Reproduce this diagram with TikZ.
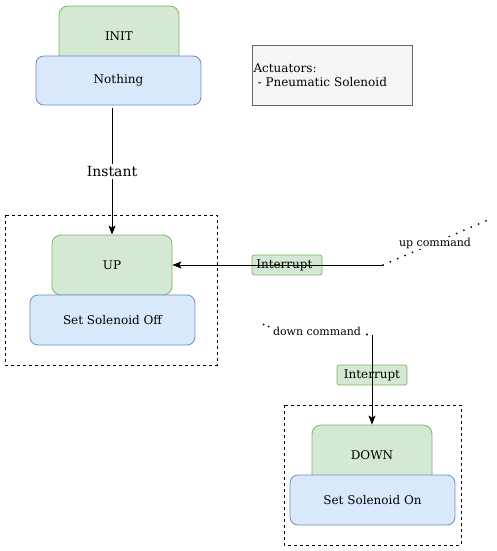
\documentclass[tikz,border=0pt]{standalone}
\usepackage{fontspec}
\setmainfont{DejaVu Serif}
\usetikzlibrary{arrows.meta}
\definecolor{gfill}{HTML}{D5E8D4}
\definecolor{gdraw}{HTML}{82B366}
\definecolor{bfill}{HTML}{DAE8FC}
\definecolor{bdraw}{HTML}{6C8EBF}
\definecolor{nfill}{HTML}{F5F5F5}
\definecolor{ndraw}{HTML}{666666}
\tikzset{
  lbl/.style={font=\fontsize{12}{14}\selectfont},
  statebox/.style={draw=gdraw, fill=gfill, line width=0.8pt, rounded corners=9pt,
    minimum width=120pt, minimum height=60pt, inner sep=0pt, lbl},
  actbox/.style={draw=bdraw, fill=bfill, line width=0.8pt, rounded corners=8pt,
    minimum width=165pt, minimum height=50pt, inner sep=0pt, lbl},
  tagbox/.style={draw=gdraw, fill=gfill, line width=0.8pt, rounded corners=2.5pt,
    minimum width=70pt, minimum height=20pt, inner sep=0pt, lbl},
  group/.style={draw=black, line width=0.8pt, dash pattern=on 3pt off 3pt},
  conn/.style={draw=black, line width=1pt, -{Stealth[length=9pt,width=7pt,inset=2pt]}},
  dots/.style={draw=black, line width=2pt, line cap=round, dash pattern=on 0pt off 8pt},
}
\begin{document}
\begin{tikzpicture}[x=1pt,y=-1pt]
\useasboundingbox (0,0) rectangle (497,551);
\fill[white] (0,0) rectangle (497,551);
% groups
\draw[group] (5,215) rectangle (217,365);
\draw[group] (284,405) rectangle (461,545);
% INIT
\node[statebox] (init) at (119,36) {INIT};
\node[actbox, minimum height=49pt] (nothing) at (118.5,80.5) {Nothing};
% note
\node[draw=ndraw, fill=nfill, line width=0.8pt, minimum width=160pt, minimum height=60pt,
  text width=157pt, align=left, inner sep=1.5pt, lbl] (note) at (332,75)
  {Actuators:\\\ - Pneumatic Solenoid};
% UP
\node[statebox] (up) at (112,265) {UP};
\node[actbox] (off) at (112.5,320) {Set Solenoid Off};
% DOWN
\node[statebox] (down) at (372,455) {DOWN};
\node[actbox] (on) at (372.5,500) {Set Solenoid On};
% labels drawn under connectors
\node[tagbox] (int1) at (287,265) {};
\node[lbl, anchor=west, inner sep=0pt] (int1t) at (int1.west) {\hspace{4.5pt}Interrupt};
\node[tagbox] (int2) at (372,375) {Interrupt};
% connectors
\draw[conn] (up.north |- 0,108) -- node[fill=white, inner sep=2pt, font=\fontsize{14}{16}\selectfont] (instant) {Instant} (up.north);
\coordinate (uc) at (383,265);
\coordinate (ue) at (488,220);
\draw[conn] (uc) -- (up.east);
\draw[dots] (uc) -- (ue);
\node[font=\fontsize{11}{13}\selectfont, fill=white, inner sep=0.5pt] (upcmd) at (435,243) {up command};
\coordinate (dc) at (372,335);
\draw[conn] (dc) -- (down.north);
\node[font=\fontsize{11}{13}\selectfont, inner sep=1pt] (dncmd) at (317,331) {down command};
\fill (263.5,324.5) circle (1pt);
\fill (268.5,326.5) circle (1pt);
\fill (367,334.5) circle (1.1pt);
\end{tikzpicture}
\end{document}
